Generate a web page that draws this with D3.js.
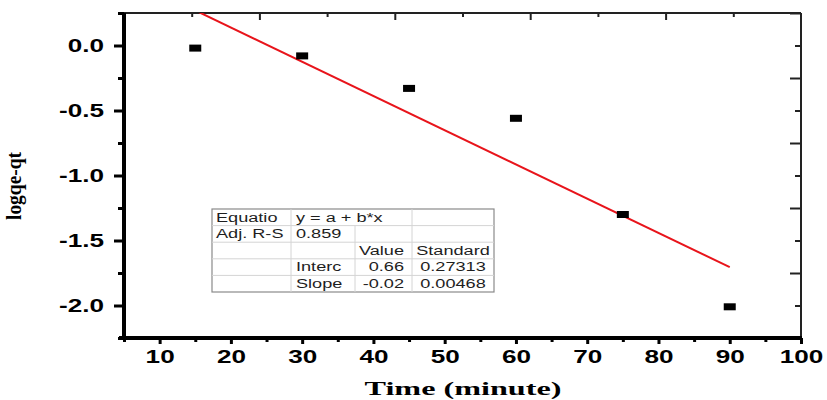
<!DOCTYPE html>
<html>
<head>
<meta charset="utf-8">
<script src="https://cdn.jsdelivr.net/npm/d3@7"></script>
<style>
  body { margin: 0; background: #fff; }
</style>
</head>
<body>
<div id="chart"></div>
<script>
"use strict";

// data
var times = [15, 30, 45, 60, 75, 90];
var logValues = [-0.02, -0.08, -0.33, -0.56, -1.30, -2.01];
// linear fit end points
var fitTimes = [15, 90];
var fitValues = [0.27, -1.705];

var xMajor = [10, 20, 30, 40, 50, 60, 70, 80, 90, 100];
var xMinor = [5, 15, 25, 35, 45, 55, 65, 75, 85, 95];
var yMajor = [0, -0.5, -1.0, -1.5, -2.0];
var yMinor = [0.25, -0.25, -0.75, -1.25, -1.75, -2.25];
var topEven = [20, 40, 60, 80];
var topOdd = [10, 30, 50, 70, 90];

var tableRows = [
  ["Equatio", "y = a + b*x", "", ""],
  ["Adj. R-S", "0.859", "", ""],
  ["", "", "Value", "Standard"],
  ["", "Interc", "0.66", "0.27313"],
  ["", "Slope", "-0.02", "0.00468"]
];

var width = 827;
var height = 400;
var plotLeft = 124, plotRight = 801, plotTop = 13, plotBottom = 338;
var squash = 1.45; // the picture is stretched sideways

var svg = d3.select("#chart").append("svg")
  .attr("width", width)
  .attr("height", height)
  .attr("style", "background:#fff;");

var x = d3.scaleLinear().domain([5, 100]).range([plotLeft, plotRight]);
var xTop = d3.scaleLinear().domain([0, 100]).range([plotLeft, plotRight]);
var y = d3.scaleLinear().domain([0.25, -2.25]).range([plotTop, plotBottom]);

function stretch(sel, k){
  sel.each(function(){
    var w = this.getComputedTextLength();
    d3.select(this).attr("textLength", w * k).attr("lengthAdjust", "spacingAndGlyphs");
  });
}

function plainTicks(g, color, w){
  g.select(".domain").remove();
  g.selectAll(".tick line").attr("stroke", color).attr("stroke-width", w);
}

// plain hyphen instead of the unicode minus
var fmt = function(d){ return d.toFixed(1); };

// top axis (ticks only)
var gTop = svg.append("g").attr("transform", "translate(0," + plotTop + ")");
gTop.call(d3.axisTop(xTop).tickValues(topEven).tickSize(-7).tickFormat(""));
plainTicks(gTop, "#222", 2);
var gTop2 = svg.append("g").attr("transform", "translate(0," + plotTop + ")");
gTop2.call(d3.axisTop(xTop).tickValues(topOdd).tickSize(-4).tickFormat(""));
plainTicks(gTop2, "#222", 2);

// right axis (ticks only)
var gRight = svg.append("g").attr("transform", "translate(" + plotRight + ",0)");
gRight.call(d3.axisRight(y).tickValues(yMajor).tickSize(-6).tickFormat(""));
plainTicks(gRight, "#222", 2);
var gRight2 = svg.append("g").attr("transform", "translate(" + plotRight + ",0)");
gRight2.call(d3.axisRight(y).tickValues(yMinor).tickSize(-11).tickFormat(""));
plainTicks(gRight2, "#222", 2);

// frame top & right
svg.append("line")
  .attr("x1", plotLeft).attr("x2", plotRight).attr("y1", plotTop).attr("y2", plotTop)
  .attr("stroke", "#222").attr("stroke-width", 2);
svg.append("line")
  .attr("x1", plotRight).attr("x2", plotRight).attr("y1", plotTop).attr("y2", plotBottom)
  .attr("stroke", "#222").attr("stroke-width", 2);

// left axis
var gLeft = svg.append("g").attr("transform", "translate(" + plotLeft + ",0)");
gLeft.call(d3.axisLeft(y).tickValues(yMajor).tickSize(10).tickPadding(10).tickFormat(fmt));
plainTicks(gLeft, "#000", 3);
gLeft.selectAll(".tick text")
  .attr("font-family", "Liberation Sans, Arial, sans-serif")
  .attr("font-size", "18px")
  .attr("font-weight", "bold")
  .attr("fill", "#000")
  .attr("x", -20);
var gLeftMinor = svg.append("g").attr("transform", "translate(" + plotLeft + ",0)");
gLeftMinor.call(d3.axisLeft(y).tickValues(yMinor).tickSize(6).tickFormat(""));
plainTicks(gLeftMinor, "#000", 3);

// bottom axis
var gBottom = svg.append("g").attr("transform", "translate(0," + plotBottom + ")");
gBottom.call(d3.axisBottom(x).tickValues(xMajor).tickSize(6).tickFormat(d3.format("d")));
plainTicks(gBottom, "#000", 3);
gBottom.selectAll(".tick text")
  .attr("font-family", "Liberation Sans, Arial, sans-serif")
  .attr("font-size", "18px")
  .attr("font-weight", "bold")
  .attr("fill", "#000")
  .attr("y", 12);
var gBottomMinor = svg.append("g").attr("transform", "translate(0," + plotBottom + ")");
gBottomMinor.call(d3.axisBottom(x).tickValues(xMinor).tickSize(4).tickFormat(""));
plainTicks(gBottomMinor, "#000", 3);

stretch(gLeft.selectAll(".tick text"), squash);
stretch(gBottom.selectAll(".tick text"), squash);

// thick left & bottom spines
svg.append("line")
  .attr("x1", plotLeft).attr("x2", plotLeft).attr("y1", plotTop).attr("y2", plotBottom + 1.5)
  .attr("stroke", "#000").attr("stroke-width", 4);
svg.append("line")
  .attr("x1", plotLeft - 5).attr("x2", plotRight + 1).attr("y1", plotBottom).attr("y2", plotBottom)
  .attr("stroke", "#000").attr("stroke-width", 4);

// fit line, clipped to the plot
svg.append("clipPath").attr("id", "plotClip")
  .append("rect")
  .attr("x", plotLeft).attr("y", plotTop)
  .attr("width", plotRight - plotLeft).attr("height", plotBottom - plotTop);

var fitData = fitTimes.map(function(t, i){ return [t, fitValues[i]]; });
svg.append("path")
  .datum(fitData)
  .attr("clip-path", "url(#plotClip)")
  .attr("d", d3.line().x(function(d){ return x(d[0]); }).y(function(d){ return y(d[1]); }))
  .attr("fill", "none")
  .attr("stroke", "#e8141b")
  .attr("stroke-width", 2);

// points
var pts = times.map(function(t, i){ return [t, logValues[i]]; });
svg.append("g").selectAll("rect")
  .data(pts)
    .enter()
      .append("rect")
        .attr("x", function(d){ return x(d[0]) - 6; })
        .attr("y", function(d){ return y(d[1]) - 3.5; })
        .attr("width", 12)
        .attr("height", 7)
        .attr("fill", "#000");

// fit table
var colEdges = [212, 291, 355, 412, 494];
var rowTop = 209, rowH = 16.6;
var tbl = svg.append("g");
tbl.append("rect")
  .attr("x", colEdges[0]).attr("y", rowTop)
  .attr("width", colEdges[4] - colEdges[0]).attr("height", rowH * tableRows.length)
  .attr("fill", "#fff").attr("stroke", "#8a8a8a").attr("stroke-width", 1.2);

tableRows.forEach(function(r, i){
  if(i > 0){
    tbl.append("line")
      .attr("x1", colEdges[0]).attr("x2", colEdges[4])
      .attr("y1", rowTop + i * rowH).attr("y2", rowTop + i * rowH)
      .attr("stroke", "#d4d4d4");
  }
});
tbl.append("line")
  .attr("x1", colEdges[1]).attr("x2", colEdges[1])
  .attr("y1", rowTop).attr("y2", rowTop + rowH * 5).attr("stroke", "#d4d4d4");
tbl.append("line")
  .attr("x1", colEdges[2]).attr("x2", colEdges[2])
  .attr("y1", rowTop + rowH).attr("y2", rowTop + rowH * 5).attr("stroke", "#d4d4d4");
tbl.append("line")
  .attr("x1", colEdges[3]).attr("x2", colEdges[3])
  .attr("y1", rowTop).attr("y2", rowTop + rowH * 5).attr("stroke", "#d4d4d4");

var cellPos = [
  { x: colEdges[0] + 4, anchor: "start" },
  { x: colEdges[1] + 5, anchor: "start" },
  { x: colEdges[3] - 8, anchor: "end" },
  { x: 453, anchor: "middle" }
];
tableRows.forEach(function(r, i){
  r.forEach(function(txt, j){
    if(txt === "") return;
    var t = tbl.append("text")
      .text(txt)
      .attr("x", cellPos[j].x)
      .attr("y", rowTop + i * rowH + 12.5)
      .attr("text-anchor", cellPos[j].anchor)
      .attr("font-family", "Liberation Sans, Arial, sans-serif")
      .attr("font-size", "12.5px")
      .attr("fill", "#1e1e1e");
    stretch(t, squash);
  });
});

// axis titles
svg.append("text")
  .text("Time (minute)")
  .attr("x", 463)
  .attr("y", 395)
  .attr("text-anchor", "middle")
  .attr("font-family", "Liberation Serif, Times New Roman, serif")
  .attr("font-weight", "bold")
  .attr("font-size", "19px")
  .attr("fill", "#000")
  .attr("textLength", 197)
  .attr("lengthAdjust", "spacingAndGlyphs");

svg.append("text")
  .text("logqe-qt")
  .attr("transform", "translate(21,186) rotate(-90)")
  .attr("text-anchor", "middle")
  .attr("font-family", "Liberation Serif, Times New Roman, serif")
  .attr("font-size", "20px")
  .attr("font-weight", "bold")
  .attr("textLength", 68)
  .attr("lengthAdjust", "spacingAndGlyphs")
  .attr("fill", "#000");
</script>
</body>
</html>
